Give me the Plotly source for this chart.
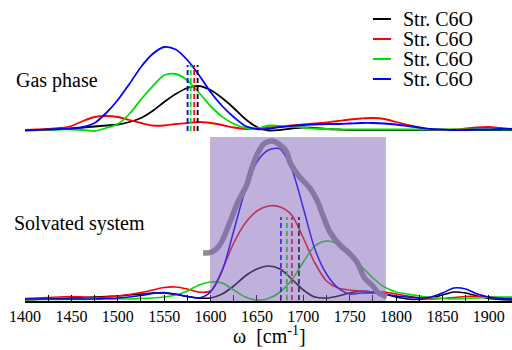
import plotly.graph_objects as go

# wavenumber grid (cm^-1) at which the spectra were read
wn = [1400, 1412.5, 1425, 1437.5, 1450, 1462.5, 1475, 1487.5, 1500, 1512.5,
      1525, 1537.5, 1550, 1562.5, 1575, 1587.5, 1600, 1612.5, 1625, 1637.5,
      1650, 1662.5, 1675, 1687.5, 1700, 1712.5, 1725, 1737.5, 1750, 1762.5,
      1775, 1787.5, 1800, 1812.5, 1825, 1837.5, 1850, 1862.5, 1875, 1887.5,
      1900, 1912.5, 1925]

# Gas phase spectra (arb. units)
gas_black = [-0.5, 0, 0.5, 1, 1.5, 2.5, 3.5, 4.5, 5.5, 8,
             12, 19, 28, 36, 42, 44, 40, 32, 22, 11,
             3, -0.5, 0, 1.5, 2.5, 2, 1, 0.5, 0, 0,
             0, 0, 0, 0, 0, 0, 0, 0, 0, 0,
             0, 0, 0]
gas_red = [0, 0.5, 1, 2, 4, 9, 13, 14, 13, 10,
           7, 4.5, 4.5, 6, 7, 8, 7, 5, 2.5, 1,
           1.5, 2.5, 3.5, 4.5, 5.5, 6.5, 7.5, 9, 10.5, 11.5,
           12, 11, 8, 5, 2.5, 0.5, 0, 0.5, 1.5, 2.5,
           3, 2, 1]
gas_green = [0, 0, 0, 0.5, 0.5, 0, -1, 2, 6, 16,
             30.5, 43.7, 54.7, 56, 49.5, 37.5, 24, 13.4, 6.2, 2,
             1.5, 4.5, 4, 3.5, 2.5, 1.5, 1, 0.5, 0.5, 0.5,
             0.5, 0.5, 0.5, 0.5, 0.5, 0.5, 0.5, 0.5, 0.5, 0.5,
             0.5, 0.5, 0.5]
gas_blue = [0, 0, 0.5, 1, 1.5, 3, 7, 17, 30, 46,
            63, 76, 83, 80.5, 70, 55, 38, 24, 13, 4,
            1, 1, 3, 4, 5, 5.5, 6, 6, 6.5, 7,
            7, 6.5, 5.5, 4, 2.5, 1, 0.5, 0, 0, 0.5,
            0.5, 1, 1]

# Solvated system spectra (arb. units)
sol_black = [0, 0.5, 1, 1.5, 2, 2.5, 3, 3.5, 4, 5,
             6, 7, 7, 5.5, 3.5, 2, 2, 6, 14, 24,
             31, 34, 31, 21, 10, 3, 2, 4, 7, 9,
             8, 6, 3, 1, 0.5, 2, 5, 8, 7, 4,
             1.5, 0.5, 0]
sol_red = [1.5, 2, 2.5, 3, 3.5, 3, 2.5, 3, 4, 5.5,
           7.5, 10, 12.5, 13, 11, 8, 9, 30, 57, 77,
           89, 94, 93, 85, 62, 37, 19, 12, 10, 9,
           8, 8, 6, 4, 2, 1, 1.5, 2.5, 3.5, 3.5,
           3, 2.5, 2]
sol_green = [0, 0.5, 0.5, 0.5, 0.5, 0.5, 1, 1, 1, 1,
             1.5, 2, 3, 5, 9, 15, 18, 17, 10, 3,
             0, 1.5, 8, 20, 38, 54, 59, 56, 46, 34,
             22, 13, 8, 6, 4, 2.5, 1.5, 1, 1.5, 2,
             2.5, 3, 3]
sol_blue = [1, 1, 1, 1, 1, 1, 1, 1.5, 2, 3,
            4.5, 6.5, 7.5, 6, 3.5, 2, 8, 29, 69, 110,
            138, 150, 151, 131, 92, 51, 26, 12, 6, 7,
            7, 6, 4, 3, 2, 3, 7, 12, 11, 6,
            3, 1.5, 1]

# Experimental band (solvated system)
exp_wn = [1592, 1601.5, 1610, 1621, 1629.5, 1639, 1644.6, 1651, 1658.6, 1667,
          1675, 1682, 1686, 1696, 1707, 1714.7, 1721, 1728.7, 1739.4, 1748,
          1757.8, 1766, 1774, 1780, 1790]
exp_int = [47, 48, 55, 78, 98, 115, 132, 147, 157, 159,
           155, 148, 137, 123, 112, 100, 85, 68, 55, 48,
           38, 22, 15, 8, 3]

# C=O stretch frequencies (stick positions) - order: black, red, green, blue
gas_sticks = [1586.1, 1582.4, 1578.6, 1575.3]
gas_stick_height = 65
sol_sticks = [1695.3, 1687.7, 1682.3, 1675.9]
sol_stick_height = 83

names = ["Str. C6O", "Str. C6O", "Str. C6O", "Str. C6O"]
colors = ["#000000", "#ff0000", "#00e000", "#0000ff"]

SERIF = "Liberation Serif, Times New Roman, serif"

fig = go.Figure()

gas = [gas_black, gas_red, gas_green, gas_blue]
sol = [sol_black, sol_red, sol_green, sol_blue]

# solvated curves
for i in range(4):
    fig.add_trace(go.Scatter(x=wn, y=sol[i], mode="lines",
                             line=dict(color=colors[i], width=1.6, shape="spline", smoothing=0.8),
                             name=names[i], legendgroup=str(i), showlegend=False, yaxis="y"))
# solvated sticks
for i in range(4):
    fig.add_trace(go.Scatter(x=[sol_sticks[i], sol_sticks[i]], y=[0, sol_stick_height], mode="lines",
                             line=dict(color=colors[i], width=1.8, dash="5px,3px"), showlegend=False, yaxis="y"))
# experimental band
fig.add_trace(go.Scatter(x=exp_wn, y=exp_int, mode="lines",
                         line=dict(color="rgb(140,140,146)", width=5.5, shape="spline"),
                         showlegend=False, yaxis="y"))
# gas curves
for i in range(4):
    fig.add_trace(go.Scatter(x=wn, y=gas[i], mode="lines",
                             line=dict(color=colors[i], width=1.8, shape="spline", smoothing=0.8),
                             name=names[i], legendgroup=str(i), showlegend=False, yaxis="y2"))
for i in range(4):
    fig.add_trace(go.Scatter(x=[gas_sticks[i], gas_sticks[i]], y=[-1, gas_stick_height], mode="lines",
                             line=dict(color=colors[i], width=1.8, dash="5px,3px"), showlegend=False, yaxis="y2"))

fig.add_shape(type="rect", xref="x", yref="y", x0=1599.5, x1=1789, y0=-1, y1=163,
              fillcolor="rgba(129,97,185,0.5)", line=dict(width=0), layer="above")

# compact legend (line sample + label) in the upper right
legend_y = [0.9369, 0.8704, 0.8040, 0.7375]
annotations = [
    dict(text="Gas phase", xref="paper", yref="paper", x=-0.0226, y=0.734, xanchor="left", yanchor="middle",
         showarrow=False, font=dict(family=SERIF, size=20, color="black")),
    dict(text="Solvated system", xref="paper", yref="paper", x=-0.0267, y=0.259, xanchor="left", yanchor="middle",
         showarrow=False, font=dict(family=SERIF, size=20, color="black")),
    dict(text="ω  [cm<sup>-1</sup>]", xref="paper", yref="paper", x=0.503, y=-0.113, xanchor="center",
         yanchor="middle", showarrow=False, font=dict(family=SERIF, size=20, color="black")),
]
for i in range(4):
    fig.add_shape(type="line", xref="paper", yref="paper", x0=0.7146, x1=0.7515, y0=legend_y[i], y1=legend_y[i],
                  line=dict(color=colors[i], width=2))
    annotations.append(dict(text=names[i], xref="paper", yref="paper", x=0.772, y=legend_y[i],
                            xanchor="left", yanchor="middle", showarrow=False,
                            font=dict(family=SERIF, size=20, color="black")))

fig.update_layout(
    width=512, height=350,
    margin=dict(l=25, r=0, t=0, b=49),
    paper_bgcolor="white", plot_bgcolor="white",
    showlegend=False,
    font=dict(family=SERIF, color="black", size=16),
    xaxis=dict(range=[1400, 1925], showline=True, linecolor="black", linewidth=1.5,
               ticks="inside", ticklen=6, tickwidth=1, tickcolor="black", tick0=1400, dtick=50,
               minor=dict(dtick=25, tick0=1400, ticks="inside", ticklen=6, tickwidth=1, tickcolor="black",
                          showgrid=False),
               showgrid=False, zeroline=False,
               tickfont=dict(family=SERIF, size=16, color="black")),
    yaxis=dict(range=[-1, 300], visible=False, domain=[0, 1]),
    yaxis2=dict(range=[-171, 130], visible=False, overlaying="y"),
    annotations=annotations,
)

fig.write_html("out.html", config={"displayModeBar": False},
               post_script="document.body.style.margin='0';")
